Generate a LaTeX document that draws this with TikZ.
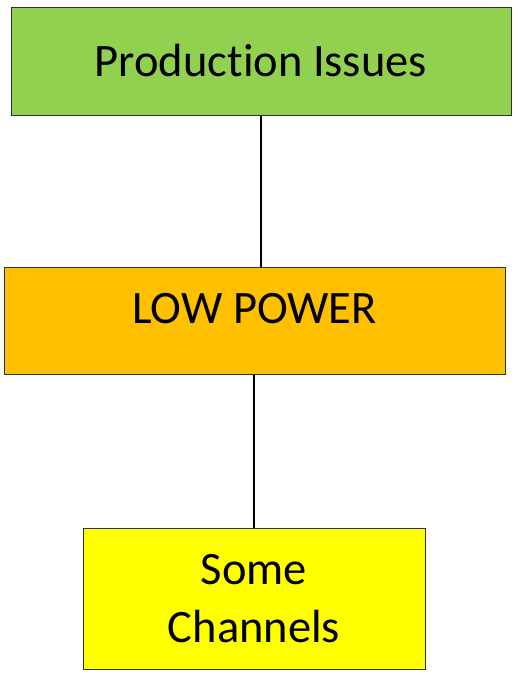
\documentclass[tikz,border=0pt]{standalone}
\usepackage{fontspec}
\setmainfont[Ligatures={NoCommon}]{Carlito}
\definecolor{boxgreen}{HTML}{92D050}
\definecolor{boxorange}{HTML}{FFC000}
\definecolor{boxyellow}{HTML}{FFFF00}
\definecolor{boxedge}{HTML}{303030}
\tikzset{
  box/.style={draw=boxedge, line width=1pt, inner sep=0pt, align=center,
    font=\fontsize{46.5}{58}\selectfont},
  link/.style={draw=black, line width=1.6pt}
}
\begin{document}
\begin{tikzpicture}[x=1pt,y=1pt]
\useasboundingbox (0,0) rectangle (517,-675);
\node[box, fill=boxgreen, minimum width=500, minimum height=108] (g) at (261,-61) {Production Issues};
\node[box, fill=boxorange, minimum width=501, minimum height=107,
  label={[font=\fontsize{46.5}{58}\selectfont, yshift=12]center:LOW POWER}] (o) at (254.5,-320.5) {};
\node[box, fill=boxyellow, minimum width=342, minimum height=141] (y) at (254,-598.5) {Some\\Channels};
\draw[link] (g.south) -- (g.south |- o.north);
\draw[link] (o.south -| y.north) -- (y.north);
\end{tikzpicture}
\end{document}
